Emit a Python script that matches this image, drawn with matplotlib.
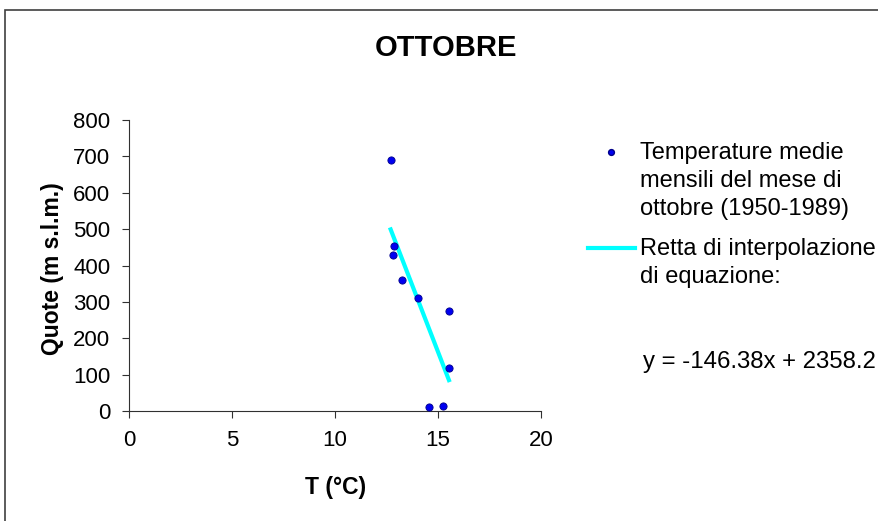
import numpy as np
import matplotlib.pyplot as plt
from matplotlib.lines import Line2D
from matplotlib.patches import Rectangle

plt.rcParams['font.family'] = ['Liberation Sans', 'DejaVu Sans']

# Mean October temperatures (1950-1989) against station altitude
temp_c = [12.70, 12.86, 12.80, 13.24, 14.03, 15.53, 15.53, 14.56, 15.26]
quota_m = [690, 453, 428, 360, 310, 275, 117, 10, 15]

# Linear fit shown on the chart: y = slope * x + intercept
slope = -146.38
intercept = 2358.2

fig = plt.figure(figsize=(8.79, 5.21), dpi=100)
ax = fig.add_axes([0.1468, 0.2111, 0.4687, 0.5586])

ax.plot(temp_c, quota_m, linestyle='none', marker='o', markersize=5.2,
        color='#0000f0', markeredgecolor='#00008a', markeredgewidth=0.6, zorder=3)

x_fit = np.array([min(temp_c), max(temp_c)])
ax.plot(x_fit, slope * x_fit + intercept, color='#00ffff', linewidth=3, zorder=2)

ax.set_xlim(0, 20)
ax.set_ylim(0, 800)
ax.set_xticks(np.arange(0, 21, 5))
ax.set_yticks(np.arange(0, 801, 100))
for side in ['top', 'right']:
    ax.spines[side].set_visible(False)
for side in ['left', 'bottom']:
    ax.spines[side].set_color('#303030')
    ax.spines[side].set_linewidth(0.8)
ax.tick_params(axis='both', direction='out', length=5, width=0.8, color='#303030',
               labelsize=16)
ax.tick_params(axis='y', pad=8.4)
ax.tick_params(axis='x', pad=9)

ax.set_xlabel('T (°C)', fontsize=16.5, fontweight='bold')
ax.set_ylabel('Quote (m s.l.m.)', fontsize=16.5, fontweight='bold')
ax.xaxis.set_label_coords(0.502, -0.225)
ax.yaxis.set_label_coords(-0.158, 0.49)

fig.text(0.507, 0.907, 'OTTOBRE', fontsize=21, fontweight='bold',
         ha='center', va='center')

# legend entries drawn by hand so the handle sits on the first text line
W, H = 879.0, 521.0
fig.add_artist(Line2D([611 / W], [1 - 152 / H], marker='o', markersize=4.2,
                      color='#0000f0', markeredgecolor='#00008a',
                      transform=fig.transFigure))
fig.text(640 / W, 1 - 142 / H, 'Temperature medie\nmensili del mese di\nottobre (1950-1989)',
         fontsize=17, ha='left', va='top', linespacing=1.34)
fig.add_artist(Line2D([588 / W, 635 / W], [1 - 248 / H, 1 - 248 / H],
                      color='#00ffff', linewidth=3, transform=fig.transFigure))
fig.text(640 / W, 1 - 238 / H, 'Retta di interpolazione\ndi equazione:',
         fontsize=17, ha='left', va='top', linespacing=1.34)
fig.text(643 / W, 1 - 362 / H, f'y = {slope:.2f}x + {intercept:.1f}',
         fontsize=17.3, ha='left', va='center')

# outer chart frame (only top and left edges fall inside the image)
fig.add_artist(Rectangle((5 / W, -0.1), 1.2, 1 - 10 / H + 0.1, fill=False,
                         edgecolor='#404040', linewidth=1.2,
                         transform=fig.transFigure))

fig.savefig('out.png', dpi=100)
